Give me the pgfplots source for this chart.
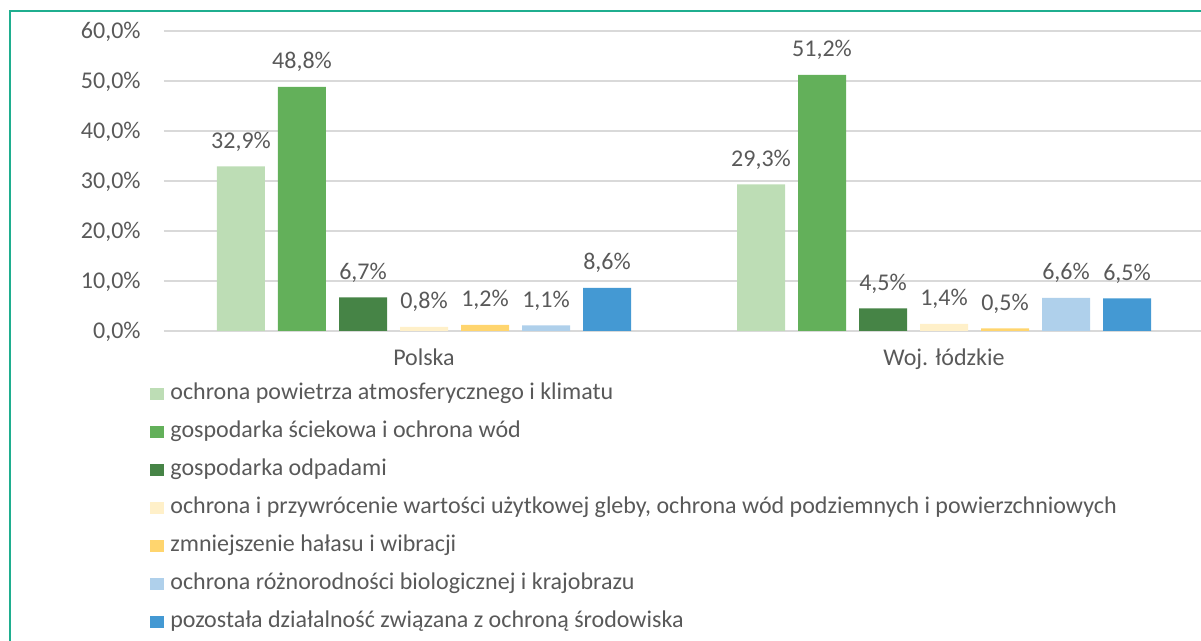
\documentclass[border=0pt]{standalone}
\usepackage{fontspec}
\setmainfont{Carlito}
\usepackage{pgfplots}
\pgfplotsset{compat=1.18}
\definecolor{c1}{HTML}{BDDDB5}
\definecolor{c2}{HTML}{63B05A}
\definecolor{c3}{HTML}{468446}
\definecolor{c4}{HTML}{FFF0C9}
\definecolor{c5}{HTML}{FFD56E}
\definecolor{c6}{HTML}{AFD0EB}
\definecolor{c7}{HTML}{4499D3}
\definecolor{textc}{HTML}{595959}
\definecolor{gridc}{HTML}{D9D9D9}
\definecolor{framec}{HTML}{1FAE8F}
\begin{document}
\begin{tikzpicture}[font=\fontsize{12pt}{14pt}\selectfont]
\useasboundingbox (0,0) rectangle (600.5pt,320.5pt);
\draw[framec, line width=1pt] (5pt,-10pt) -- (5pt,315pt) -- (610pt,315pt);
\begin{axis}[
 at={(82pt,155pt)}, anchor=south west,
 scale only axis, width=520pt, height=150pt,
 xmin=0, xmax=2, ymin=0, ymax=60,
 ybar=6.5pt, bar width=24pt,
 xtick={0.5,1.5}, xticklabels={Polska, Woj. łódzkie},
 ytick={0,10,...,60},
 yticklabel={\pgfmathprintnumber[fixed,fixed zerofill,precision=1,use comma]{\tick}\%},
 /pgf/number format/assume math mode=true,
 ymajorgrids, grid style={gridc, line width=0.75pt},
 axis line style={draw=none},
 major tick length=0pt,
 tick label style={text=textc},
 yticklabel style={anchor=base east, inner sep=0pt, xshift=-11.5pt, yshift=-3.8pt},
 xticklabel style={anchor=base, inner sep=0pt, yshift=-17.5pt},
 nodes near coords={\pgfmathprintnumber[fixed,fixed zerofill,precision=1,use comma]{\pgfplotspointmeta}\%},
 every node near coord/.append style={anchor=base, inner sep=0pt, yshift=9pt, text=textc},
 legend style={at={(axis description cs:-0.0135,-0.1733)}, anchor=north west, draw=none, fill=none, inner sep=0pt, row sep=8.5pt,
   nodes={inner sep=0pt, text=textc, text height=8pt, text depth=2.5pt},
   /tikz/every odd column/.append style={column sep=3pt}},
 legend cell align=left,
 legend image code/.code={\fill[#1,draw=none] (0pt,-3pt) rectangle (7pt,3pt);},
 clip=false,
]
\addplot[fill=c1, draw=none] coordinates {(0.5,32.9) (1.5,29.3)};
\addlegendentry{ochrona powietrza atmosferycznego i klimatu}
\addplot[fill=c2, draw=none] coordinates {(0.5,48.8) (1.5,51.2)};
\addlegendentry{gospodarka ściekowa i ochrona wód}
\addplot[fill=c3, draw=none] coordinates {(0.5,6.7) (1.5,4.5)};
\addlegendentry{gospodarka odpadami}
\addplot[fill=c4, draw=none] coordinates {(0.5,0.8) (1.5,1.4)};
\addlegendentry{ochrona i przywrócenie wartości użytkowej gleby, ochrona wód podziemnych i powierzchniowych}
\addplot[fill=c5, draw=none] coordinates {(0.5,1.2) (1.5,0.5)};
\addlegendentry{zmniejszenie hałasu i wibracji}
\addplot[fill=c6, draw=none] coordinates {(0.5,1.1) (1.5,6.6)};
\addlegendentry{ochrona różnorodności biologicznej i krajobrazu}
\addplot[fill=c7, draw=none] coordinates {(0.5,8.6) (1.5,6.5)};
\addlegendentry{pozostała działalność związana z ochroną środowiska}
\end{axis}
\end{tikzpicture}
\end{document}
